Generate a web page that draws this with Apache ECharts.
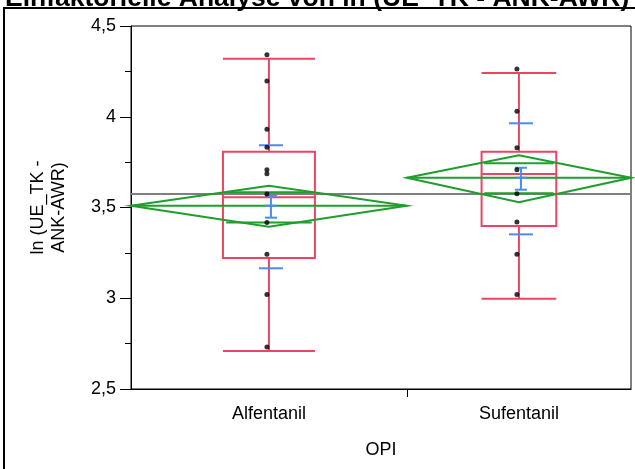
<!DOCTYPE html>
<html>
<head>
<meta charset="utf-8">
<script src="https://cdn.jsdelivr.net/npm/echarts@6/dist/echarts.min.js"></script>
<style>
html,body{margin:0;padding:0;background:#fff;}
#chart{width:635px;height:469px;}
</style>
</head>
<body>
<div id="chart"></div>
<script>
// ---- data ----
const titleText = 'Einfaktorielle Analyse von ln (UE_TK - ANK-AWR)';
const categories = ['Alfentanil', 'Sufentanil'];
const groupSizes = [16, 13];
const whiskerLow = [2.709, 2.997];
const q1 = [3.222, 3.398];
const medians = [3.556, 3.685];
const q3 = [3.807, 3.807];
const whiskerHigh = [4.320, 4.241];
const means = [3.510, 3.664];
const ciLow = [3.394, 3.529];
const ciHigh = [3.620, 3.788];
const overlapLow = [3.418, 3.578];
const overlapHigh = [3.584, 3.744];
const sdLow = [3.165, 3.352];
const sdHigh = [3.843, 3.964];
const seLow = [3.444, 3.598];
const seHigh = [3.565, 3.719];
const grandMean = 3.574;
const alfentanilPoints = [4.320, 4.175, 3.909, 3.810, 3.686, 3.664, 3.552, 3.396, 3.220, 2.998, 2.709];
const sufentanilPoints = [4.241, 4.008, 3.807, 3.686, 3.554, 3.398, 3.220, 2.998];
const yTicks = [2.5, 3, 3.5, 4, 4.5];
const yTickLabels = ['2,5', '3', '3,5', '4', '4,5'];
const xName = 'OPI';
const yName = 'ln (UE_TK -\nANK-AWR)';

// ---- derived section layout (widths proportional to group size) ----
const starts = [];
let acc = 0;
groupSizes.forEach(n => { starts.push(acc); acc += n; });
const total = acc;
const centers = groupSizes.map((n, i) => starts[i] + n / 2);
const boundaries = starts.slice(1);

const RED = '#ec4463';
const GREEN = '#1f9e2c';
const BLUE = '#4a8cf0';
const GRAY = '#7f7f7f';
const FONT = 'Liberation Sans, Arial, sans-serif';

const chart = echarts.init(document.getElementById('chart'), null, {renderer: 'canvas'});

function groupRender(params, api) {
  const i = params.dataIndex;
  const s = starts[i], e = starts[i] + groupSizes[i], c = centers[i];
  const sect = api.coord([e, 0])[0] - api.coord([s, 0])[0];
  const bw = sect / 3;
  const pc = (v) => api.coord([c, v]);
  const xc = pc(means[i])[0];
  const children = [];
  const redStyle = {stroke: RED, lineWidth: 2, fill: null};
  const top = pc(q3[i])[1], bot = pc(q1[i])[1];
  children.push({type: 'rect', shape: {x: xc - bw / 2, y: top, width: bw, height: bot - top}, style: redStyle});
  const my = pc(medians[i])[1];
  children.push({type: 'line', shape: {x1: xc - bw / 2, y1: my, x2: xc + bw / 2, y2: my}, style: redStyle});
  const wh = pc(whiskerHigh[i])[1], wl = pc(whiskerLow[i])[1];
  children.push({type: 'line', shape: {x1: xc, y1: top, x2: xc, y2: wh}, style: redStyle});
  children.push({type: 'line', shape: {x1: xc, y1: bot, x2: xc, y2: wl}, style: redStyle});
  children.push({type: 'line', shape: {x1: xc - bw / 2, y1: wh, x2: xc + bw / 2, y2: wh}, style: redStyle});
  children.push({type: 'line', shape: {x1: xc - bw / 2, y1: wl, x2: xc + bw / 2, y2: wl}, style: redStyle});
  const xs = api.coord([s, 0])[0], xe = api.coord([e, 0])[0];
  const mY = pc(means[i])[1], cH = pc(ciHigh[i])[1], cL = pc(ciLow[i])[1];
  const greenStyle = {stroke: GREEN, lineWidth: 2, fill: null};
  children.push({type: 'polygon', shape: {points: [[xs, mY], [xc, cH], [xe, mY], [xc, cL]]}, style: greenStyle});
  children.push({type: 'line', shape: {x1: xs, y1: mY, x2: xe, y2: mY}, style: greenStyle});
  const ow = sect * 0.31;
  const oH = pc(overlapHigh[i])[1], oL = pc(overlapLow[i])[1];
  children.push({type: 'line', shape: {x1: xc - ow / 2, y1: oH, x2: xc + ow / 2, y2: oH}, style: greenStyle});
  children.push({type: 'line', shape: {x1: xc - ow / 2, y1: oL, x2: xc + ow / 2, y2: oL}, style: greenStyle});
  const bx = xc + 2;
  const blueStyle = {stroke: BLUE, lineWidth: 2, fill: null};
  const sdH = pc(sdHigh[i])[1], sdL = pc(sdLow[i])[1];
  children.push({type: 'line', shape: {x1: bx - 12, y1: sdH, x2: bx + 12, y2: sdH}, style: blueStyle});
  children.push({type: 'line', shape: {x1: bx - 12, y1: sdL, x2: bx + 12, y2: sdL}, style: blueStyle});
  const seH = pc(seHigh[i])[1], seL = pc(seLow[i])[1];
  children.push({type: 'line', shape: {x1: bx, y1: seH, x2: bx, y2: seL}, style: blueStyle});
  children.push({type: 'line', shape: {x1: bx - 6, y1: seH, x2: bx + 6, y2: seH}, style: blueStyle});
  children.push({type: 'line', shape: {x1: bx - 6, y1: seL, x2: bx + 6, y2: seL}, style: blueStyle});
  children.push({type: 'line', shape: {x1: bx - 6, y1: mY, x2: bx + 6, y2: mY}, style: blueStyle});
  return {type: 'group', children};
}

function grandMeanRender(params, api) {
  const p1 = api.coord([0, grandMean]);
  const p2 = api.coord([total, grandMean]);
  return {type: 'line', shape: {x1: p1[0], y1: p1[1], x2: p2[0], y2: p2[1]}, style: {stroke: GRAY, lineWidth: 2}};
}

const pointSeries = [alfentanilPoints, sufentanilPoints].map((pts, i) => ({
  type: 'scatter',
  data: pts.map(v => [centers[i], v]),
  symbol: 'circle',
  symbolSize: 5,
  symbolOffset: [-2, -4],
  itemStyle: {color: '#000'},
  z: 10,
  silent: true
}));

const option = {
  animation: false,
  backgroundColor: '#fff',
  grid: {left: 131, right: 4, top: 26, bottom: 80, show: true, borderColor: '#000', borderWidth: 1, backgroundColor: 'transparent'},
  xAxis: {
    type: 'value', min: 0, max: total,
    name: xName, nameLocation: 'middle', nameGap: 52,
    nameTextStyle: {fontFamily: FONT, fontSize: 18, color: '#000'},
    axisLine: {show: true, lineStyle: {color: '#000', width: 1}},
    axisTick: {show: true, length: 8, lineStyle: {color: '#000'}, customValues: boundaries},
    axisLabel: {show: true, customValues: centers, margin: 16, fontFamily: FONT, fontSize: 18, color: '#000',
      formatter: (v) => { const k = centers.indexOf(v); return k >= 0 ? categories[k] : ''; }},
    splitLine: {show: false}
  },
  yAxis: {
    type: 'value', min: yTicks[0], max: yTicks[yTicks.length - 1], interval: 0.5,
    name: yName, nameLocation: 'middle', nameGap: 61, nameRotate: 90,
    nameTextStyle: {fontFamily: FONT, fontSize: 18, color: '#000', lineHeight: 21, align: 'center'},
    axisLine: {show: true, lineStyle: {color: '#000', width: 1}},
    axisTick: {show: true, length: 11, lineStyle: {color: '#000'}},
    minorTick: {show: true, splitNumber: 2, length: 6, lineStyle: {color: '#000'}},
    axisLabel: {margin: 15, fontFamily: FONT, fontSize: 18, color: '#000',
      formatter: (v) => { const k = yTicks.indexOf(v); return k >= 0 ? yTickLabels[k] : ''; }},
    splitLine: {show: false}
  },
  graphic: [
    {type: 'rect', shape: {x: 4, y: 8, width: 660, height: 500}, style: {stroke: '#000', lineWidth: 2, fill: null}, z: 100},
    {type: 'text', x: 5, y: 12, style: {text: titleText, font: 'bold 26.5px ' + FONT, fill: '#000', verticalAlign: 'bottom', align: 'left'}, z: 100}
  ],
  series: [
    {type: 'custom', renderItem: grandMeanRender, data: [0], z: 1, silent: true, clip: false},
    {type: 'custom', renderItem: groupRender, data: categories.map((c, i) => i), z: 2, silent: true},
    ...pointSeries
  ]
};
chart.setOption(option);
</script>
</body>
</html>
